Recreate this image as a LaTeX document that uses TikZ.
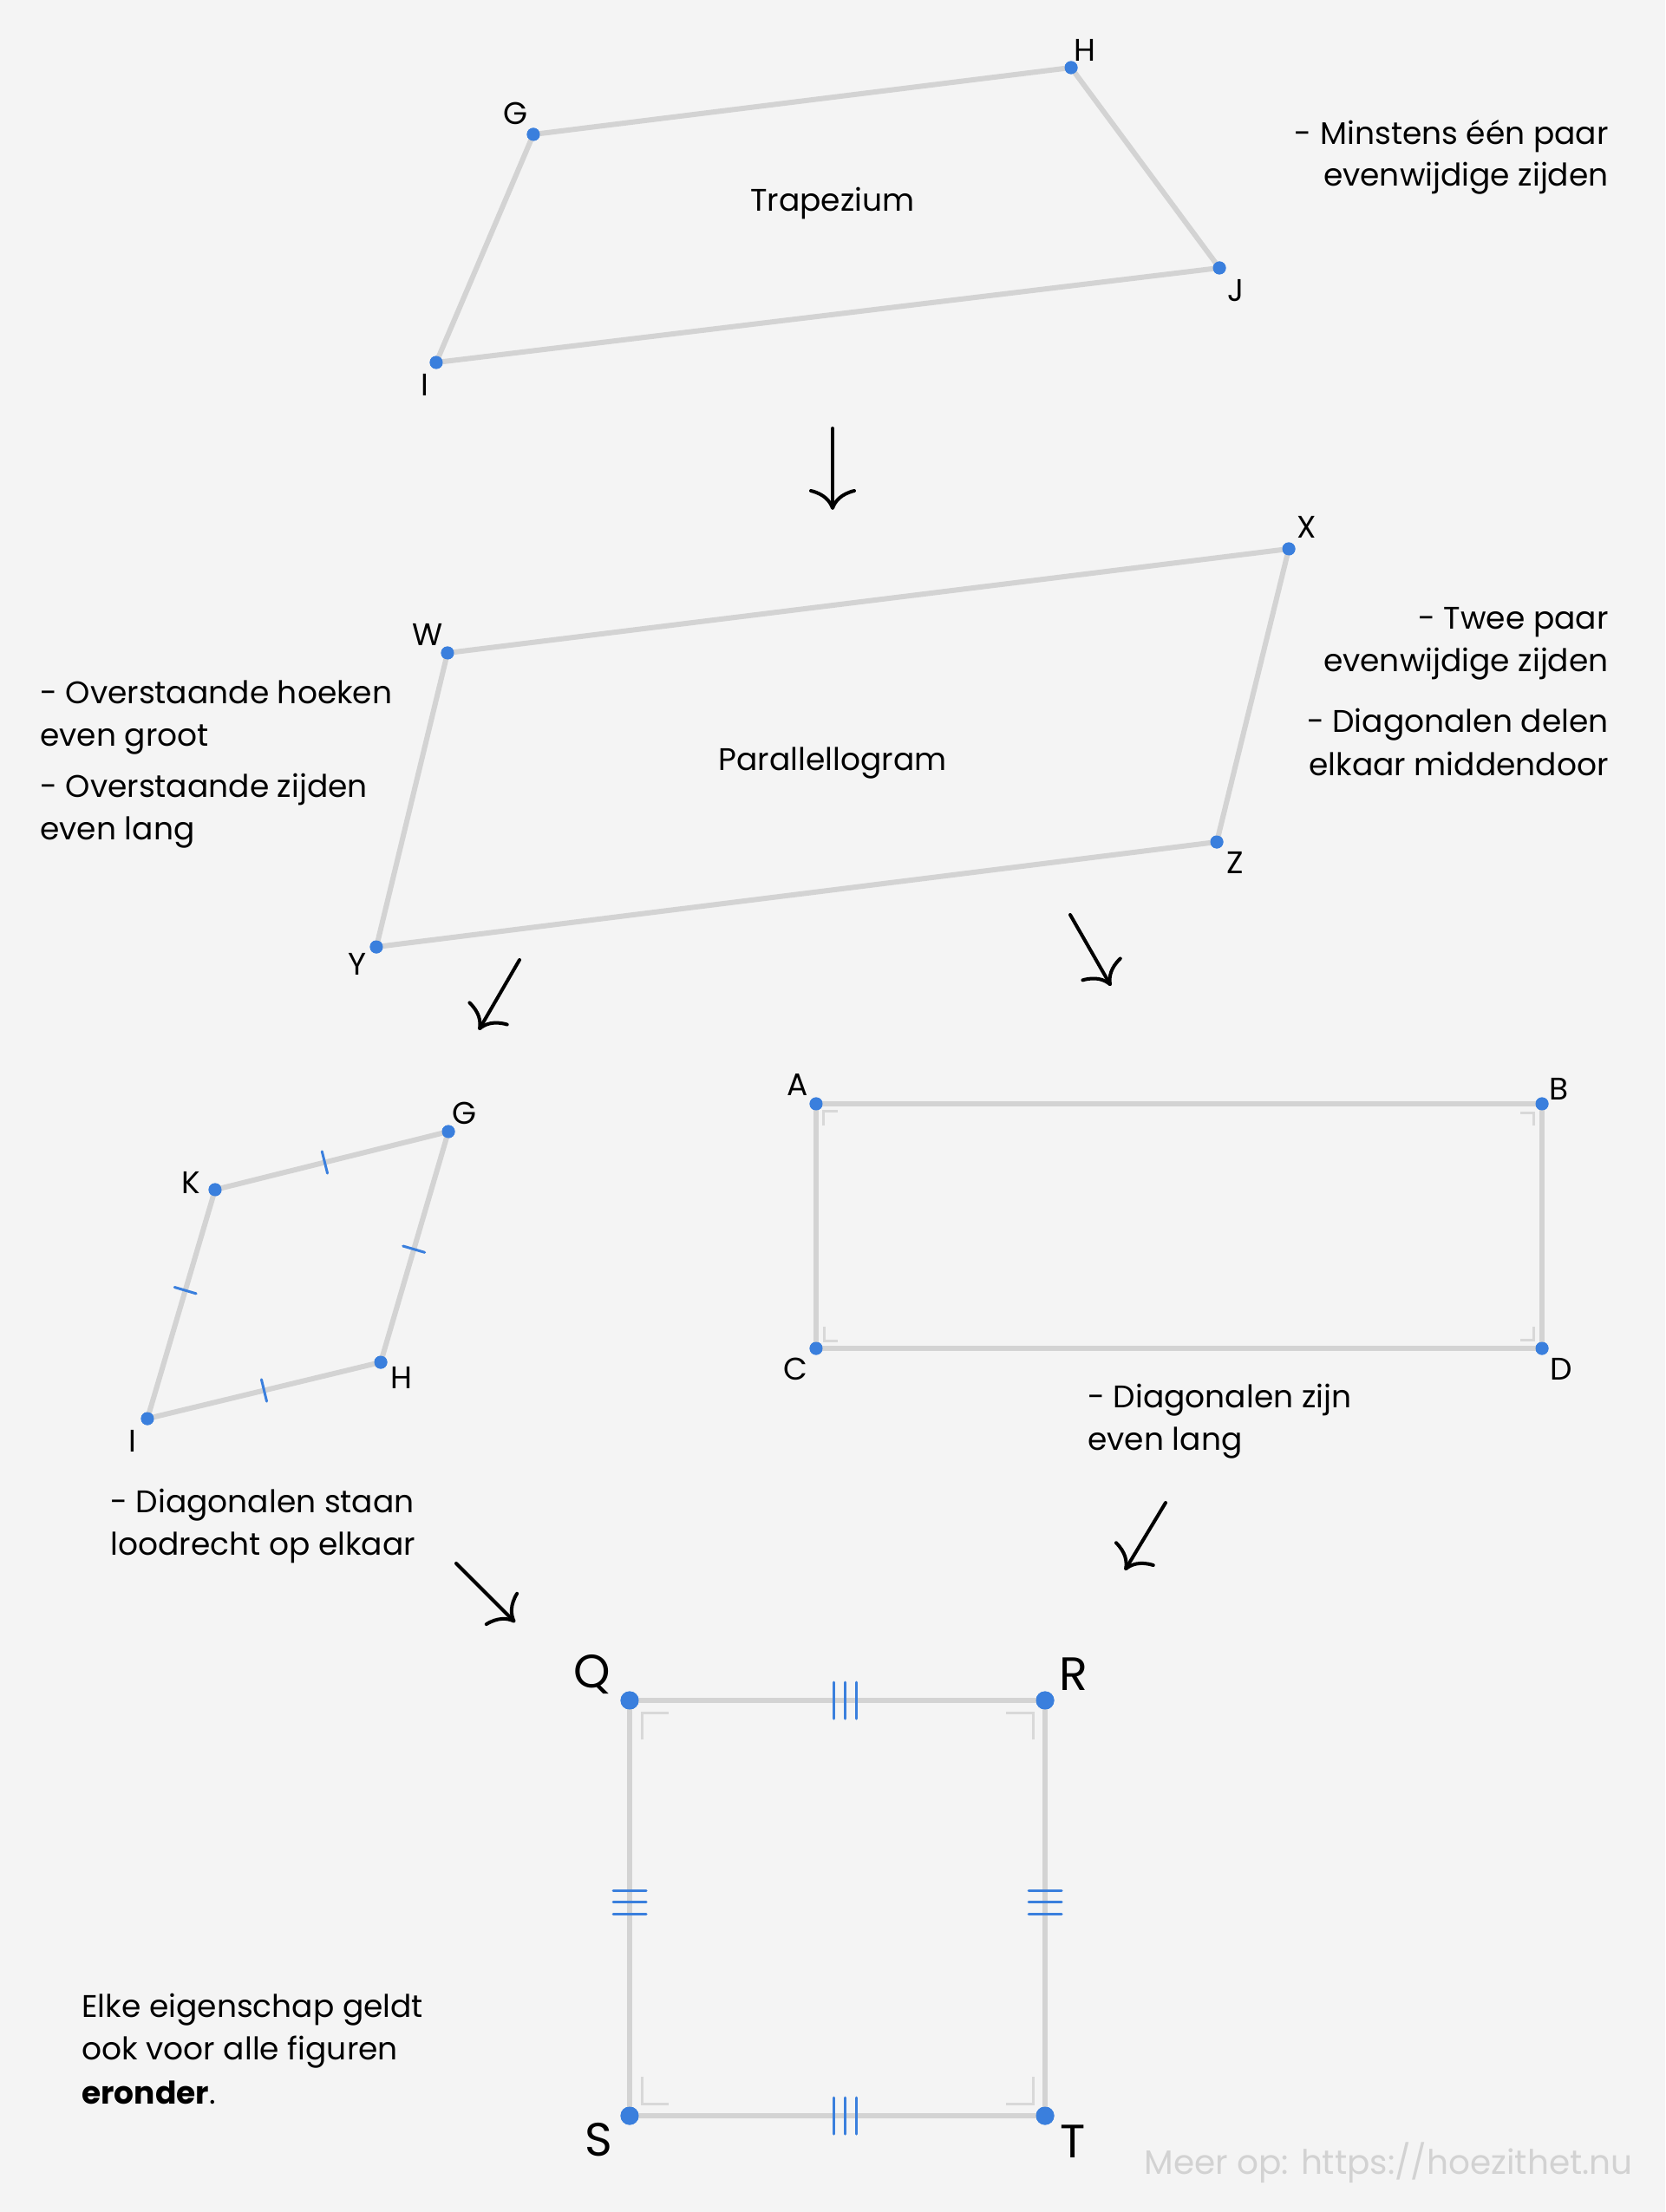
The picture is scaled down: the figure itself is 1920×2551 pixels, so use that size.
\documentclass[tikz,border=0pt]{standalone}
\usepackage{fontspec}
\setmainfont{Poppins}
\usetikzlibrary{calc,arrows.meta}
\definecolor{bg}{HTML}{F4F4F4}
\definecolor{linegray}{HTML}{D3D3D3}
\definecolor{markgray}{HTML}{D8D8D8}
\definecolor{ptblue}{HTML}{3A7FDD}
\definecolor{wmgray}{HTML}{D2D2D2}
\tikzset{
  edge/.style={draw=linegray, line width=3pt},
  pt/.style={circle, fill=ptblue, inner sep=0pt, minimum size=7.5pt},
  bigpt/.style={circle, fill=ptblue, inner sep=0pt, minimum size=10.5pt},
  lbl/.style={inner sep=0pt, font=\fontsize{18}{21}\selectfont},
  biglbl/.style={inner sep=0pt, font=\fontsize{27}{30}\selectfont},
  txt/.style={inner sep=0pt, font=\fontsize{18}{21}\selectfont},
  rmark/.style={draw=markgray, line width=1.5pt},
  tickmark/.style={draw=ptblue, line width=1.5pt, line cap=round},
  flowarrow/.style={draw=black, line width=2pt, line cap=round,
    -{Computer Modern Rightarrow[length=12pt, width=27pt, line width=2pt]}},
}
\begin{document}
\begin{tikzpicture}[x=0.5pt, y=-0.5pt]
\fill[bg] (0,0) rectangle (1920,2551);
\useasboundingbox (0,0) rectangle (1920,2551);

% ---------- Trapezium ----------
\node[pt] (tG) at (615,155) {};
\node[pt] (tH) at (1235,78) {};
\node[pt] (tJ) at (1406,309) {};
\node[pt] (tI) at (503,418) {};
\draw[edge] (tG.center) -- (tH.center) -- (tJ.center) -- (tI.center) -- cycle;
\node[pt] at (tG) {};\node[pt] at (tH) {};\node[pt] at (tJ) {};\node[pt] at (tI) {};
\node[lbl] (ltG) at (594,131) {G};
\node[lbl] (ltH) at (1251,58) {H};
\node[lbl] (ltJ) at (1425,335) {J};
\node[lbl] (ltI) at (490,444) {I};
\node[txt] (tname) at (960,234) {Trapezium};
\node[txt, anchor=mid east] (tt1) at (1855,161) {- Minstens één paar};
\node[txt, anchor=mid east] (tt2) at (1855,209) {evenwijdige zijden};

% arrow 1
\coordinate (a1s) at (960,494);
\coordinate (a1e) at (960,588);
\draw[flowarrow] (a1s) -- (a1e);

% ---------- Parallelogram ----------
\node[pt] (pW) at (516,753) {};
\node[pt] (pX) at (1486,633) {};
\node[pt] (pZ) at (1403,971) {};
\node[pt] (pY) at (434,1092) {};
\draw[edge] (pW.center) -- (pX.center) -- (pZ.center) -- (pY.center) -- cycle;
\node[pt] at (pW) {};\node[pt] at (pX) {};\node[pt] at (pZ) {};\node[pt] at (pY) {};
\node[lbl] (lpW) at (493,732) {W};
\node[lbl] (lpX) at (1507,608) {X};
\node[lbl] (lpZ) at (1424,995) {Z};
\node[lbl] (lpY) at (412,1112) {Y};
\node[txt] (pname) at (960,880) {Parallellogram};
\node[txt, anchor=mid east] (pr1) at (1855,720) {- Twee paar};
\node[txt, anchor=mid east] (pr2) at (1855,769) {evenwijdige zijden};
\node[txt, anchor=mid east] (pr3) at (1855,839) {- Diagonalen delen};
\node[txt, anchor=mid east] (pr4) at (1855,889) {elkaar middendoor};
\node[txt, anchor=mid west] (pl1) at (46,806) {- Overstaande hoeken};
\node[txt, anchor=mid west] (pl2) at (46,855) {even groot};
\node[txt, anchor=mid west] (pl3) at (46,914) {- Overstaande zijden};
\node[txt, anchor=mid west] (pl4) at (46,963) {even lang};

% arrows 2,3
\coordinate (a2s) at (599,1107);
\coordinate (a2e) at (552,1188);
\draw[flowarrow] (a2s) -- (a2e);
\coordinate (a3s) at (1234,1055);
\coordinate (a3e) at (1281,1137);
\draw[flowarrow] (a3s) -- (a3e);

% ---------- Rhombus ----------
\node[pt] (rK) at (248,1372) {};
\node[pt] (rG) at (517,1305) {};
\node[pt] (rH) at (439,1571) {};
\node[pt] (rI) at (170,1636) {};
\draw[edge] (rK.center) -- (rG.center) -- (rH.center) -- (rI.center) -- cycle;
\foreach \p/\q/\f in {rK/rG/0.47, rG/rH/0.51, rH/rI/0.5, rK/rI/0.44} {
  \coordinate (m) at ($(\p)!\f!(\q)$);
  \draw[tickmark] ($(m)!6.5pt!90:(\q)$) -- ($(m)!6.5pt!-90:(\q)$);
}
\node[pt] at (rK) {};\node[pt] at (rG) {};\node[pt] at (rH) {};\node[pt] at (rI) {};
\node[lbl] (lrK) at (220,1364) {K};
\node[lbl] (lrG) at (535,1284) {G};
\node[lbl] (lrH) at (463,1589) {H};
\node[lbl] (lrI) at (153,1662) {I};
\node[txt, anchor=mid west] (rt1) at (127,1739) {- Diagonalen staan};
\node[txt, anchor=mid west] (rt2) at (127,1788) {loodrecht op elkaar};

% ---------- Rectangle ----------
\node[pt] (cA) at (941,1273) {};
\node[pt] (cB) at (1778,1273) {};
\node[pt] (cC) at (941,1555) {};
\node[pt] (cD) at (1778,1555) {};
\draw[rmark] ($(cA)+(8,25)$) -- ($(cA)+(8,8)$) -- ($(cA)+(25,8)$);
\draw[rmark] ($(cB)+(-10,25)$) -- ($(cB)+(-10,10)$) -- ($(cB)+(-25,10)$);
\draw[rmark] ($(cC)+(9,-25)$) -- ($(cC)+(9,-9)$) -- ($(cC)+(25,-9)$);
\draw[rmark] ($(cD)+(-10,-25)$) -- ($(cD)+(-10,-10)$) -- ($(cD)+(-25,-10)$);
\draw[edge] (cA.center) -- (cB.center) -- (cD.center) -- (cC.center) -- cycle;
\node[pt] at (cA) {};\node[pt] at (cB) {};\node[pt] at (cC) {};\node[pt] at (cD) {};
\node[lbl] (lcA) at (920,1251) {A};
\node[lbl] (lcB) at (1798,1256) {B};
\node[lbl] (lcC) at (917,1579) {C};
\node[lbl] (lcD) at (1800,1579) {D};
\node[txt, anchor=mid west] (ct1) at (1254,1618) {- Diagonalen zijn};
\node[txt, anchor=mid west] (ct2) at (1254,1667) {even lang};

% arrows 4,5
\coordinate (a4s) at (526,1803);
\coordinate (a4e) at (594,1871);
\draw[flowarrow] (a4s) -- (a4e);
\coordinate (a5s) at (1344,1733);
\coordinate (a5e) at (1297,1811);
\draw[flowarrow] (a5s) -- (a5e);

% ---------- Square ----------
\node[bigpt] (sQ) at (726,1961) {};
\node[bigpt] (sR) at (1205,1961) {};
\node[bigpt] (sS) at (726,2440) {};
\node[bigpt] (sT) at (1205,2440) {};
\draw[rmark] ($(sQ)+(14,45)$) -- ($(sQ)+(14,14)$) -- ($(sQ)+(45,14)$);
\draw[rmark] ($(sR)+(-14,45)$) -- ($(sR)+(-14,14)$) -- ($(sR)+(-45,14)$);
\draw[rmark] ($(sS)+(14,-45)$) -- ($(sS)+(14,-14)$) -- ($(sS)+(45,-14)$);
\draw[rmark] ($(sT)+(-14,-45)$) -- ($(sT)+(-14,-14)$) -- ($(sT)+(-45,-14)$);
\draw[edge] (sQ.center) -- (sR.center) -- (sT.center) -- (sS.center) -- cycle;
% ticks: horizontal sides
\foreach \p/\q in {sQ/sR, sS/sT} {
  \coordinate (m) at ($(\p)!0.5!(\q)+(9,0)$);
  \foreach \d in {-13,0,13} {
    \draw[tickmark] ($(m)+(\d,-21)$) -- ($(m)+(\d,21)$);
  }
}
% ticks: vertical sides
\foreach \p/\q in {sQ/sS, sR/sT} {
  \coordinate (m) at ($(\p)!0.5!(\q)+(0,-7)$);
  \foreach \d in {-13.5,0,13.5} {
    \draw[tickmark] ($(m)+(-19,\d)$) -- ($(m)+(19,\d)$);
  }
}
\node[bigpt] at (sQ) {};\node[bigpt] at (sR) {};\node[bigpt] at (sS) {};\node[bigpt] at (sT) {};
\node[biglbl] (lsQ) at (683,1931) {Q};
\node[biglbl] (lsR) at (1238,1931) {R};
\node[biglbl] (lsS) at (690,2468) {S};
\node[biglbl] (lsT) at (1237,2470) {T};

% ---------- bottom texts ----------
\node[txt, anchor=mid west] (bt1) at (94,2321) {Elke eigenschap geldt};
\node[txt, anchor=mid west] (bt2) at (94,2370) {ook voor alle figuren};
\node[txt, anchor=mid west] (bt3) at (94,2421) {\textbf{eronder}.};
\node[txt, anchor=mid east, text=wmgray, font=\fontsize{19.5}{22}\selectfont] (wm) at (1883,2502) {Meer op: https://hoezithet.nu};
\end{tikzpicture}
\end{document}
